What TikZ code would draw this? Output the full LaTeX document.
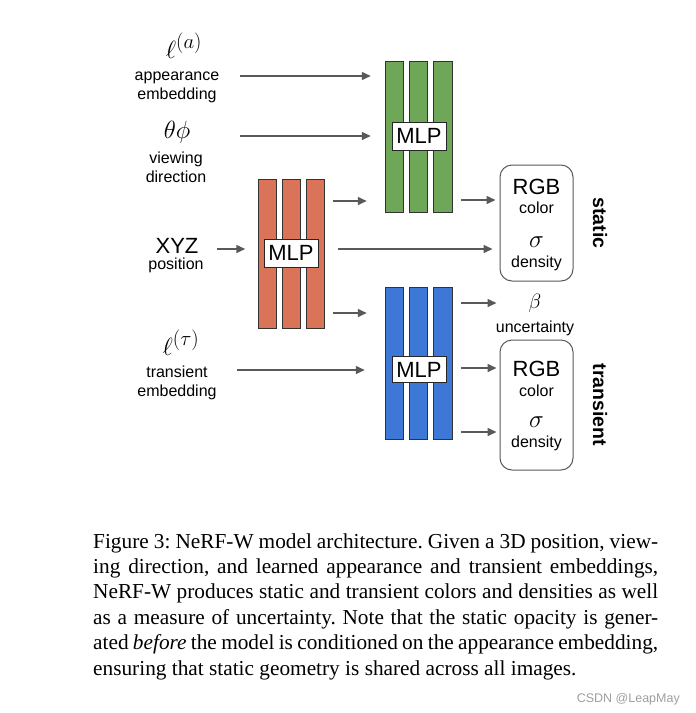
\documentclass[tikz,border=0pt]{standalone}
\usepackage{fontspec}
\setmainfont{Liberation Serif}
\newfontfamily\arialf{Liberation Sans}
\usetikzlibrary{arrows.meta}
\definecolor{redbar}{HTML}{DA7459}
\definecolor{greenbar}{HTML}{6FA759}
\definecolor{bluebar}{HTML}{3E78D6}
\definecolor{arrgray}{HTML}{595959}
\begin{document}
\begin{tikzpicture}[x=1pt,y=-1pt,
  bar/.style={draw=black!80,line width=1pt,minimum width=18.5pt,inner sep=0pt},
  mlp/.style={draw=black!85,fill=white,line width=1pt,font=\arialf\fontsize{22}{22}\selectfont,inner sep=0pt,minimum width=54pt,minimum height=28pt},
  arr/.style={draw=arrgray,line width=1.5pt,-{Triangle[length=9pt,width=8pt]}},
  small/.style={font=\arialf\fontsize{16}{19}\selectfont,anchor=base,inner sep=0pt},
  big/.style={font=\arialf\fontsize{22}{22}\selectfont,anchor=base,inner sep=0pt},
  mth/.style={font=\fontsize{24.88}{25}\selectfont,anchor=base,inner sep=0pt},
  outbox/.style={draw=black!65,line width=1pt,rounded corners=12pt,minimum width=73pt,inner sep=0pt},
  side/.style={font=\arialf\bfseries\fontsize{19.5}{20}\selectfont,rotate=-90,inner sep=0pt}
]
\useasboundingbox (0,0) rectangle (696,713);

% red MLP
\node[bar,fill=redbar,minimum height=149pt] (r1) at (267.5,253.5) {};
\node[bar,fill=redbar,minimum height=149pt] (r2) at (291.5,253.5) {};
\node[bar,fill=redbar,minimum height=149pt] (r3) at (315.5,253.5) {};
\node[mlp] (rm) at (291,253) {MLP};

% green MLP
\node[bar,fill=greenbar,minimum height=151pt] (g1) at (394.5,136.5) {};
\node[bar,fill=greenbar,minimum height=151pt] (g2) at (418.5,136.5) {};
\node[bar,fill=greenbar,minimum height=151pt] (g3) at (443,136.5) {};
\node[mlp] (gm) at (419,136) {MLP};

% blue MLP
\node[bar,fill=bluebar,minimum height=152pt] (b1) at (394.5,363) {};
\node[bar,fill=bluebar,minimum height=152pt] (b2) at (418.5,363) {};
\node[bar,fill=bluebar,minimum height=152pt] (b3) at (443,363) {};
\node[mlp,minimum height=26pt] (bm) at (419,369.5) {MLP};

% output boxes
\node[outbox,minimum height=116pt] (os) at (536.5,223) {};
\node[outbox,minimum height=130pt] (ot) at (536.5,405) {};

% input labels
\node[mth] (la) at (184,58) {$\ell^{(a)}$};
\node[small] (app1) at (177,80) {appearance};
\node[small] (app2) at (177,99) {embedding};
\node[mth] (tp) at (177,138) {$\theta\phi$};
\node[small] (vw1) at (176,163) {viewing};
\node[small] (vw2) at (176,182) {direction};
\node[big] (xyz) at (177,253) {XYZ};
\node[small] (pos) at (176,269) {position};
\node[mth] (lt) at (181,355) {$\ell^{(\tau)}$};
\node[small] (tr1) at (177,377) {transient};
\node[small] (tr2) at (177,396) {embedding};

% output labels
\node[big] (rgbs) at (536.5,194) {RGB};
\node[small] (cols) at (536.5,213) {color};
\node[mth] (sgs) at (536.5,247) {$\sigma$};
\node[small] (dens) at (536.5,267) {density};
\node[big] (rgbt) at (536.5,376) {RGB};
\node[small] (colt) at (536.5,396) {color};
\node[mth] (sgt) at (536.5,427) {$\sigma$};
\node[small] (dent) at (536.5,447) {density};
\node[mth,font=\fontsize{20.74}{22}\selectfont] (beta) at (535,308) {$\beta$};
\node[small] (unc) at (535,332) {uncertainty};
\node[side] (st) at (600,223) {static};
\node[side] (tt) at (600,405) {transient};

% arrow coordinates
\coordinate (cA) at (240,76);
\coordinate (cV) at (240,136);
\coordinate (cX) at (217,249);
\coordinate (cT) at (237,370);
\coordinate (yRG) at (0,201);
\coordinate (yRS) at (0,249);
\coordinate (yRB) at (0,313);
\coordinate (yGS) at (0,200);
\coordinate (yB1) at (0,303);
\coordinate (yB2) at (0,368);
\coordinate (yB3) at (0,432);

\draw[arr,shorten >=14pt] (cA) -- (cA -| g1.west);
\draw[arr,shorten >=14pt] (cV) -- (cV -| g1.west);
\draw[arr,shorten >=12.5pt] (cX) -- (cX -| r1.west);
\draw[arr,shorten >=20pt] (cT) -- (cT -| b1.west);
\draw[arr,shorten <=7.5pt,shorten >=18pt] (r3.east |- yRG) -- (g1.west |- yRG);
\draw[arr,shorten <=7.5pt,shorten >=18pt] (r3.east |- yRB) -- (g1.west |- yRB);
\draw[arr,shorten <=12.5pt,shorten >=7pt] (r3.east |- yRS) -- (os.west |- yRS);
\draw[arr,shorten <=8pt,shorten >=4pt] (g3.east |- yGS) -- (os.west |- yGS);
\draw[arr,shorten <=8pt,shorten >=3pt] (b3.east |- yB1) -- (os.west |- yB1);
\draw[arr,shorten <=8pt,shorten >=3pt] (b3.east |- yB2) -- (ot.west |- yB2);
\draw[arr,shorten <=8pt,shorten >=3pt] (b3.east |- yB3) -- (ot.west |- yB3);

% caption
\node[anchor=base west,inner sep=0pt] (cap) at (93,548) {\parbox[t]{565pt}{\fontsize{21.3}{25.4}\selectfont\frenchspacing\hyphenpenalty=10000\exhyphenpenalty=10000\emergencystretch=20pt
Figure 3: NeRF-W model architecture. Given a 3D position, view-\linebreak
ing direction, and learned appearance and transient embeddings,\linebreak
NeRF-W produces static and transient colors and densities as well\linebreak
as a measure of uncertainty. Note that the static opacity is gener-\linebreak
ated \emph{before} the model is conditioned on the appearance embedding,\linebreak
ensuring that static geometry is shared across all images.}};
\node[anchor=base east,inner sep=0pt,font=\arialf\fontsize{12.5}{13}\selectfont,text=black!38] (wm) at (680,702) {CSDN @LeapMay};
\end{tikzpicture}
\end{document}
